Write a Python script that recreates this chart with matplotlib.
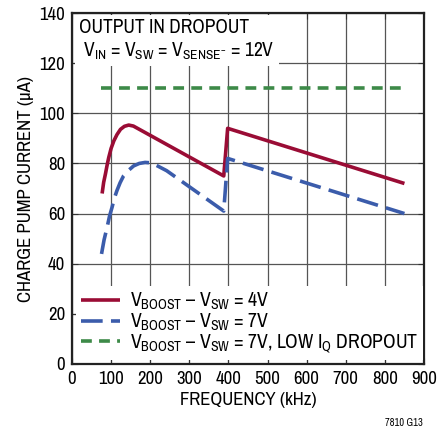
import matplotlib
matplotlib.use("Agg")
import matplotlib.pyplot as plt
from matplotlib import font_manager

fams = set(f.name for f in font_manager.fontManager.ttflist)
FONT = next((f for f in ["Archivo Narrow", "Roboto Condensed", "PT Sans Narrow", "Liberation Sans"] if f in fams), "DejaVu Sans")
plt.rcParams['font.family'] = [FONT, 'DejaVu Sans']
plt.rcParams['mathtext.fontset'] = 'custom'
plt.rcParams['mathtext.rm'] = FONT
plt.rcParams['mathtext.it'] = FONT
plt.rcParams['mathtext.bf'] = FONT

# data
freq_4v = [77, 81, 85.5, 90, 94, 100, 107, 115, 124, 134, 145, 157, 388, 398, 850]
cur_4v = [68, 72.5, 75.8, 79.5, 82.4, 86, 89, 91.5, 93.6, 94.8, 95.3, 94.9, 75, 94, 72]
freq_7v = [75.5, 82, 90, 96, 102.6, 108, 115, 123, 132, 145, 157.5, 172, 187, 204, 242, 388, 398, 850]
cur_7v = [43.9, 49.5, 54.7, 59, 62.6, 66, 69.2, 72.3, 75.1, 77.3, 79, 80, 80.4, 80.2, 77.1, 61, 82, 60]
freq_lowiq = [75, 850]
cur_lowiq = [110, 110]
labels = [r'V$_{\mathrm{BOOST}}$ – V$_{\mathrm{SW}}$ = 4V',
          r'V$_{\mathrm{BOOST}}$ – V$_{\mathrm{SW}}$ = 7V',
          r'V$_{\mathrm{BOOST}}$ – V$_{\mathrm{SW}}$ = 7V, LOW I$_{\mathrm{Q}}$ DROPOUT']
xticks = list(range(0, 901, 100))
yticks = list(range(0, 141, 20))

RED = '#9a0c35'
BLUE = '#3b5cab'
GREEN = '#3d8a48'

FS = 13.5

fig = plt.figure(figsize=(4.38, 4.34), dpi=100)
ax = fig.add_axes([72/438, 70/434, (424-72)/438, (364-13)/434])
ax.plot(freq_4v, cur_4v, color=RED, lw=2.6, solid_joinstyle='round', solid_capstyle='butt', label=labels[0])
ax.plot(freq_7v, cur_7v, color=BLUE, lw=2.6, dashes=(6, 2.3), label=labels[1])
ax.plot(freq_lowiq, cur_lowiq, color=GREEN, lw=2.6, dashes=(3, 2), label=labels[2])

ax.set_xlim(0, 900)
ax.set_ylim(0, 140)
ax.set_xticks(xticks)
ax.set_yticks(yticks)
ax.grid(True, color='#555555', lw=0.9)
ax.set_axisbelow(True)
ax.tick_params(direction='in', length=4, labelsize=FS, top=True, right=True, pad=5, color='#333333')
for s in ax.spines.values():
    s.set_linewidth(1.6)
    s.set_color('#222222')
ax.set_xlabel('FREQUENCY (kHz)', fontsize=FS, labelpad=4)
ax.set_ylabel('CHARGE PUMP CURRENT (µA)', fontsize=FS, labelpad=4)

ax.text(0.02, 0.985, 'OUTPUT IN DROPOUT\n' + r' V$_{\mathrm{IN}}$ = V$_{\mathrm{SW}}$ = V$_{\mathrm{SENSE}^{-}}$ = 12V',
        transform=ax.transAxes, va='top', ha='left', fontsize=FS + 0.5, linespacing=1.2,
        bbox=dict(facecolor='white', edgecolor='none', pad=3), zorder=5)

leg = ax.legend(loc='lower left', fontsize=14.2, frameon=True, facecolor='white', edgecolor='none',
                framealpha=1, fancybox=False, handlelength=2.0, handletextpad=0.5,
                labelspacing=-0.02, borderpad=0.25, borderaxespad=0.2)
leg.set_zorder(6)

fig.text(423/438, 1 - 423/434, '7810 G13', fontsize=7.5, ha='right', va='center')

fig.savefig('out.png', dpi=100)
